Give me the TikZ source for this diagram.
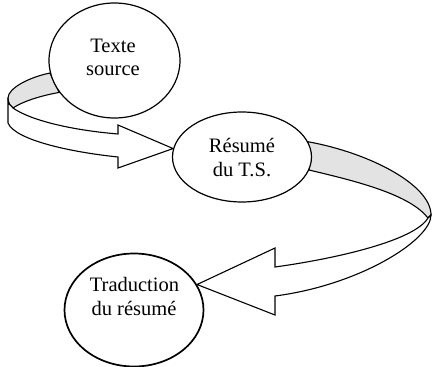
\documentclass[tikz,border=0pt]{standalone}
\usepackage{fontspec}
\setmainfont{Liberation Serif}
\usetikzlibrary{shapes.geometric,backgrounds}
\begin{document}
\begin{tikzpicture}[x=1pt,y=-1pt,
  bubble/.style={ellipse,draw,fill=white,line width=1.2pt,inner sep=0pt},
  lbl/.style={anchor=base,inner sep=0pt,font=\fontsize{20.5}{24}\selectfont},
  band/.style={draw,line width=1.1pt,line join=miter},
  backface/.style={band,fill=black!11},
  frontface/.style={band,fill=white}]
\useasboundingbox (0,0) rectangle (432,367);
% ellipses
\node[bubble,minimum width=131pt,minimum height=115pt] (src) at (114.5,60.5) {};
\node[bubble,minimum width=139pt,minimum height=90pt] (res) at (242,157) {};
\node[bubble,line width=1.7pt,minimum width=139pt,minimum height=113pt] (trad) at (134,310) {};
% texts
\node[lbl] (src1) at (113,52) {Texte};
\node[lbl] (src2) at (113,75) {source};
\node[lbl] (res1) at (242,152) {Résumé};
\node[lbl] (res2) at (242,176) {du T.S.};
\node[lbl] (trad1) at (134.5,291) {Traduction};
\node[lbl] (trad2) at (134,315) {du résumé};
% bands
\begin{scope}[on background layer]
\draw[backface] (src.191) .. controls (30,77) and (8,88) .. (8,98)
  .. controls (8,103) and (10,106) .. (13,108)
  .. controls (25,100) and (45,95) .. (src.210) -- cycle;
\draw[frontface] (13,108) .. controls (30,120) and (70,130) .. (118,134)
  -- (118,125) -- (res.173) -- (118,168) -- (118,157)
  .. controls (70,152) and (15,140) .. (8,123) -- (8,98)
  .. controls (8,103) and (10,106) .. (13,108) -- cycle;
\draw[backface] (res.13) .. controls (370,153) and (431,185) .. (431,215)
  -- (428,218) .. controls (410,195) and (360,182) .. (res.349) -- cycle;
\draw[frontface] (428,218) .. controls (415,240) and (340,258) .. (275,267)
  -- (275,248) -- (trad.22) -- (275,315) -- (275,296)
  .. controls (360,285) and (431,240) .. (431,215) -- cycle;
\end{scope}
\end{tikzpicture}
\end{document}
